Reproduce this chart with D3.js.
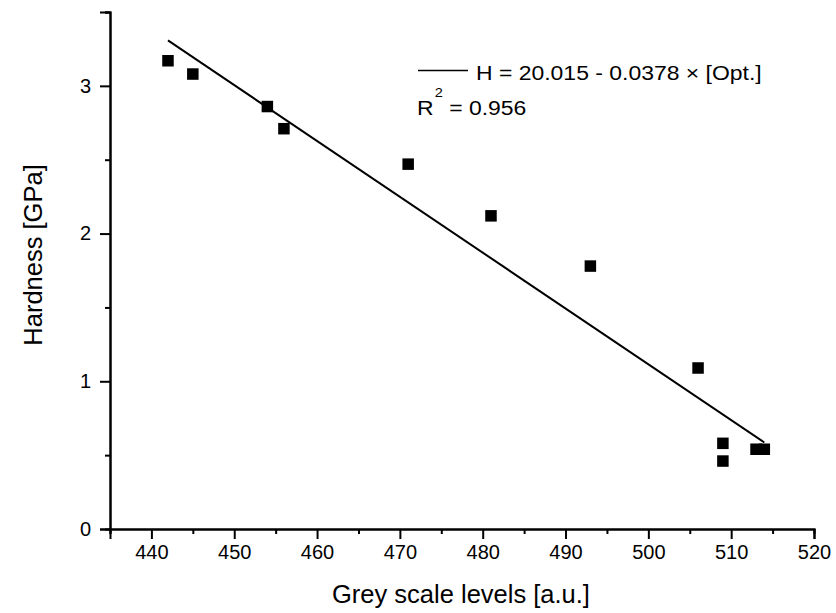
<!DOCTYPE html>
<html>
<head>
<meta charset="utf-8">
<script src="https://cdn.jsdelivr.net/npm/d3@7"></script>
<style>
  html, body { margin: 0; padding: 0; background: #fff; }
  svg { display: block; font-family: "Liberation Sans", Arial, sans-serif; }
</style>
</head>
<body>
<svg id="chart" width="836" height="613"></svg>
<script>
// Measured samples: grey scale level vs. hardness
const greyLevels = [442, 445, 454, 456, 471, 481, 493, 506, 509, 509, 513, 514];
const hardness   = [3.17, 3.08, 2.86, 2.71, 2.47, 2.12, 1.78, 1.09, 0.58, 0.46, 0.54, 0.54];

// Linear fit H = a - b * grey, drawn over the measured range
const fitIntercept = 20.015;
const fitSlope = 0.0378;
const fitRange = [442, 514];

const xMajorTicks = [440, 450, 460, 470, 480, 490, 500, 510, 520];
const xMinorTicks = [435, 445, 455, 465, 475, 485, 495, 505, 515];
const yMajorTicks = [0, 1, 2, 3];
const yMinorTicks = [0.5, 1.5, 2.5, 3.5];

const legendText = "H = 20.015 - 0.0378 \u00d7 [Opt.]";
const r2Value = "0.956";

const svg = d3.select("#chart");
const plotLeft = 110, plotRight = 814, plotTop = 12, plotBottom = 529;

const x = d3.scaleLinear().domain([435, 520]).range([plotLeft, plotRight]);
const y = d3.scaleLinear().domain([0, 3.5]).range([plotBottom, plotTop]);

// Axes: major ticks labelled, minor ticks shorter
const xAxis = d3.axisBottom(x).tickValues(xMajorTicks).tickSize(10).tickPadding(6).tickFormat(d3.format("d"));
const xMinor = d3.axisBottom(x).tickValues(xMinorTicks).tickSize(5).tickFormat("");
const yAxis = d3.axisLeft(y).tickValues(yMajorTicks).tickSize(10).tickPadding(9).tickFormat(d3.format("d"));
const yMinor = d3.axisLeft(y).tickValues(yMinorTicks).tickSize(5).tickFormat("");

function styleAxis(g) {
  g.select(".domain").attr("stroke", "#000").attr("stroke-width", 2);
  g.selectAll(".tick line").attr("stroke", "#000").attr("stroke-width", 2);
  g.selectAll(".tick text").attr("fill", "#000").style("font-size", "20px").style("font-family", "Liberation Sans, Arial, sans-serif");
}

svg.append("g").attr("transform", `translate(0,${plotBottom})`).call(xMinor).call(styleAxis);
svg.append("g").attr("transform", `translate(0,${plotBottom})`).call(xAxis).call(styleAxis);
svg.append("g").attr("transform", `translate(${plotLeft},0)`).call(yMinor).call(styleAxis);
svg.append("g").attr("transform", `translate(${plotLeft},0)`).call(yAxis).call(styleAxis);

// Axis titles
svg.append("text")
  .attr("x", 461).attr("y", 603)
  .attr("text-anchor", "middle")
  .style("font-size", "25.5px")
  .text("Grey scale levels [a.u.]");

svg.append("text")
  .attr("transform", "translate(42,255) rotate(-90)")
  .attr("text-anchor", "middle")
  .style("font-size", "25.5px")
  .text("Hardness [GPa]");

// Regression line
const fitLine = d3.line().x(d => x(d)).y(d => y(fitIntercept - fitSlope * d));
svg.append("path")
  .attr("d", fitLine(fitRange))
  .attr("fill", "none")
  .attr("stroke", "#000")
  .attr("stroke-width", 2);

// Data markers
const sq = 11.5;
svg.append("g").selectAll("rect")
  .data(greyLevels.map((g, i) => [g, hardness[i]]))
  .join("rect")
  .attr("x", d => x(d[0]) - sq / 2)
  .attr("y", d => y(d[1]) - sq / 2)
  .attr("width", sq)
  .attr("height", sq)
  .attr("fill", "#000");

// Legend (slightly wide lettering)
const legend = svg.append("g");
legend.append("line")
  .attr("x1", 418).attr("x2", 468)
  .attr("y1", 70.5).attr("y2", 70.5)
  .attr("stroke", "#000").attr("stroke-width", 1.7);
legend.append("text")
  .attr("transform", "translate(476,80) scale(1.12,1)")
  .style("font-size", "20.5px")
  .text(legendText);

const r2 = legend.append("text")
  .attr("transform", "translate(417,115) scale(1.12,1)")
  .style("font-size", "20.5px");
r2.append("tspan").text("R");
r2.append("tspan").attr("dy", -18).attr("dx", 1).style("font-size", "13px").text("2");
r2.append("tspan").attr("dy", 18).text(" = " + r2Value);
</script>
</body>
</html>
